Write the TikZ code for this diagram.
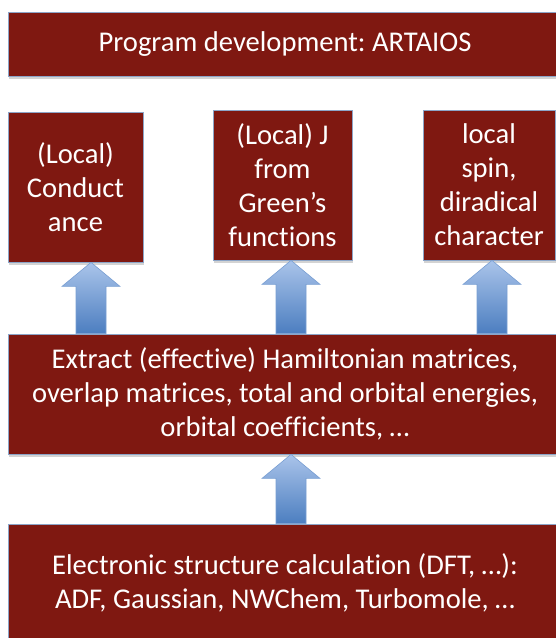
\documentclass[tikz,border=0pt]{standalone}
\usepackage{fontspec}
\setmainfont[Ligatures=NoCommon]{Carlito}
\usetikzlibrary{calc,shadows}
\frenchspacing

\definecolor{boxred}{RGB}{127,24,17}
\definecolor{boxline}{RGB}{140,165,200}
\definecolor{arrtop}{RGB}{170,196,234}
\definecolor{arrbot}{RGB}{76,126,192}
\definecolor{arrline}{RGB}{120,158,210}

\tikzset{
  box/.style={draw=boxline, line width=0.8pt, fill=boxred, text=white,
    align=center, inner sep=0pt,
    drop shadow={opacity=0.35, shadow xshift=1pt, shadow yshift=-2.5pt},
    font=\fontsize{28.6}{34}\selectfont},
  arrowshade/.style={draw=arrline, line width=0.6pt, top color=arrtop, bottom color=arrbot}
}

% block arrow pointing up: #1 lower node, #2 upper node, #3 x position
\newcommand{\blockarrow}[3]{%
  \path[arrowshade] let \p1=(#1.north), \p2=(#2.south) in
    (#3pt-15pt,\y1) -- (#3pt-15pt,\y2-24pt) -- (#3pt-29pt,\y2-24pt) -- (#3pt,\y2)
    -- (#3pt+29pt,\y2-24pt) -- (#3pt+15pt,\y2-24pt) -- (#3pt+15pt,\y1) -- cycle;
}

\begin{document}
\begin{tikzpicture}[x=1pt,y=-1pt]
  \clip (0,0) rectangle (556,638);

  \node[box, minimum width=554pt, minimum height=64pt] (artaios) at (285,44) {Program development: ARTAIOS};

  \node[box, minimum width=135pt, minimum height=150pt] (cond) at (75.5,187) {(Local)\\Conduct\\ance};
  \node[box, minimum width=139pt, minimum height=150pt] (jgreen) at (282.5,185) {(Local) J\\from\\Green’s\\functions};
  \node[box, minimum width=132pt, minimum height=150pt] (spin) at (489,185) {local\\spin,\\diradical\\character};

  \node[box, minimum width=554pt, minimum height=120pt] (extract) at (285,394)
    {Extract (effective) Hamiltonian matrices,\\overlap matrices, total and orbital energies,\\orbital coefficients, …};

  \node[box, minimum width=554pt, minimum height=118pt] (dft) at (285,583)
    {Electronic structure calculation (DFT, …):\\ADF, Gaussian, NWChem, Turbomole, …};

  \blockarrow{extract}{cond}{91}
  \blockarrow{extract}{jgreen}{291}
  \blockarrow{extract}{spin}{492}
  \blockarrow{dft}{extract}{291}
\end{tikzpicture}
\end{document}
